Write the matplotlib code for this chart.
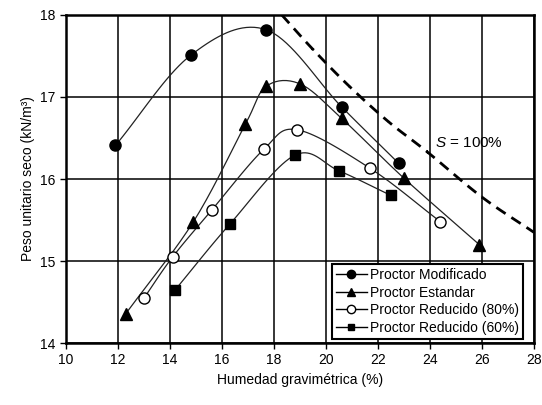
import numpy as np
import matplotlib
matplotlib.use("Agg")
from matplotlib import pyplot as plt

plt.rcParams['font.family'] = ['Liberation Sans', 'DejaVu Sans']
plt.rcParams['mathtext.fontset'] = 'custom'
plt.rcParams['mathtext.it'] = 'Liberation Sans:italic'
plt.rcParams['mathtext.rm'] = 'Liberation Sans'

# Data
mod_w = [11.9, 14.8, 17.7, 20.6, 22.8]
mod_g = [16.41, 17.51, 17.82, 16.88, 16.19]

est_w = [12.3, 14.9, 16.9, 17.7, 19.0, 20.6, 23.0, 25.9]
est_g = [14.36, 15.48, 16.67, 17.13, 17.16, 16.74, 16.01, 15.20]

r80_w = [13.0, 14.1, 15.6, 17.6, 18.9, 21.7, 24.4]
r80_g = [14.55, 15.05, 15.62, 16.36, 16.60, 16.13, 15.48]

r60_w = [14.2, 16.3, 18.8, 20.5, 22.5]
r60_g = [14.65, 15.45, 16.29, 16.10, 15.80]

sat_w = [18.3, 19.5, 20.9, 22.4, 23.9, 26.0, 28.0]
sat_g = [18.0, 17.58, 17.13, 16.70, 16.33, 15.78, 15.35]


def smooth(x, y, n=20):
    # Catmull-Rom curve through the points (like Excel smoothed lines)
    p = np.column_stack([x, y]).astype(float)
    p = np.vstack([2 * p[0] - p[1], p, 2 * p[-1] - p[-2]])
    out = []
    t = np.linspace(0, 1, n)[:, None]
    for i in range(1, len(p) - 2):
        p0, p1, p2, p3 = p[i - 1], p[i], p[i + 1], p[i + 2]
        seg = 0.5 * ((2 * p1) + (-p0 + p2) * t + (2 * p0 - 5 * p1 + 4 * p2 - p3) * t ** 2
                     + (-p0 + 3 * p1 - 3 * p2 + p3) * t ** 3)
        out.append(seg)
    c = np.vstack(out)
    return c[:, 0], c[:, 1]


fig = plt.figure(figsize=(5.42, 4.05), dpi=100)
ax = fig.add_axes([0.122, 0.153, 0.863, 0.81])

series = [
    (mod_w, mod_g, dict(marker='o', markerfacecolor='black', markersize=8), 'Proctor Modificado'),
    (est_w, est_g, dict(marker='^', markerfacecolor='black', markersize=8), 'Proctor Estandar'),
    (r80_w, r80_g, dict(marker='o', markerfacecolor='white', markersize=8), 'Proctor Reducido (80%)'),
    (r60_w, r60_g, dict(marker='s', markerfacecolor='black', markersize=7), 'Proctor Reducido (60%)'),
]
for w, g, mk, lab in series:
    sx, sy = smooth(w, g)
    ax.plot(sx, sy, color='#222222', lw=0.9, zorder=3)
    ax.plot(w, g, linestyle='none', color='black', markeredgecolor='black', zorder=4, **mk)
    ax.plot([], [], color='black', lw=1, markeredgecolor='black',
            label=lab, **{k: v for k, v in mk.items() if k != 'markersize'},
            markersize=mk['markersize'] - 2)

sx, sy = smooth(sat_w, sat_g)
ax.plot(sx, sy, color='black', lw=2, dashes=(4, 2.5), zorder=3)
ax.text(24.2, 16.44, '$S$ = 100%', fontsize=11, va='center')

ax.set_xlim(10, 28)
ax.set_ylim(14, 18)
ax.set_xticks(np.arange(10, 29, 2))
ax.set_yticks(np.arange(14, 18.1, 1))
ax.grid(True, color='black', lw=1.1)
ax.set_axisbelow(True)
for s in ax.spines.values():
    s.set_linewidth(1.8)
ax.tick_params(direction='out', length=4, width=1, labelsize=10)
ax.set_xlabel('Humedad gravimétrica (%)', fontsize=10)
ax.set_ylabel('Peso unitario seco (kN/m³)', fontsize=10)

leg = ax.legend(loc='lower right', fontsize=10, frameon=True, fancybox=False,
                handlelength=2.2, borderpad=0.3, labelspacing=0.25,
                handletextpad=0.2, borderaxespad=0.3, bbox_to_anchor=(0.985, 0.0))
leg.get_frame().set_edgecolor('black')
leg.get_frame().set_linewidth(1.5)
leg.get_frame().set_alpha(1)

fig.savefig('out.png', dpi=100)
